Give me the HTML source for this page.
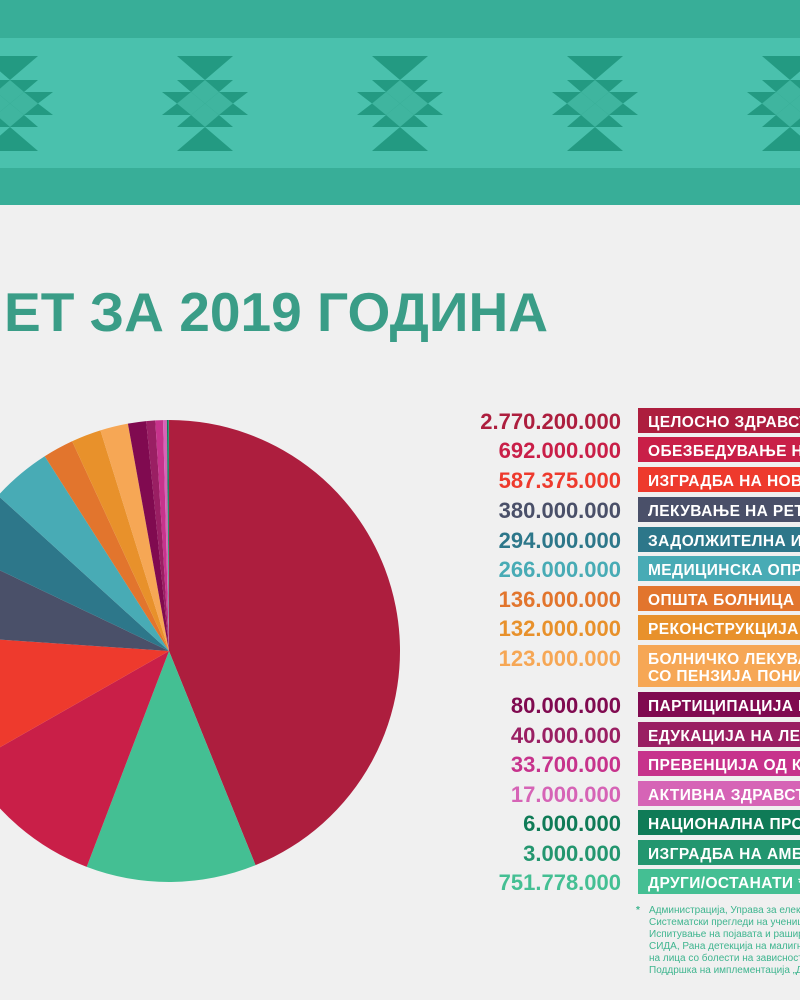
<!DOCTYPE html>
<html><head><meta charset="utf-8"><style>
html,body{margin:0;padding:0;background:#f0f0f0;}
svg{display:block;font-family:"Liberation Sans","DejaVu Sans",sans-serif;}
</style></head><body>
<svg id="s" width="800" height="1000" viewBox="0 0 800 1000" xmlns="http://www.w3.org/2000/svg">
<rect width="800" height="1000" fill="#f0f0f0"/>
<rect y="0" width="800" height="38" fill="#38ae98"/>
<rect y="38" width="800" height="130" fill="#4ac1ad"/>
<rect y="168" width="800" height="37" fill="#38ae98"/>
<defs>
<g id="m">
<polygon points="-28,56 28,56 0,80" fill="#239a82"/>
<polygon points="0,127 -28,151 28,151" fill="#239a82"/>
<polygon points="-28,80 28,80 14,92 43,92 28,103.5 43,115 14,115 28,127 -28,127 -14,115 -43,115 -28,103.5 -43,92 -14,92" fill="#239a82"/>
<polygon points="0,80 14,92 0,103.5 -14,92" fill="#3fb59f"/>
<polygon points="0,103.5 14,115 0,127 -14,115" fill="#3fb59f"/>
<polygon points="14,92 28,103.5 14,115 0,103.5" fill="#3fb59f"/>
<polygon points="-14,92 0,103.5 -14,115 -28,103.5" fill="#3fb59f"/>
</g>
</defs>
<use href="#m" x="10"/><use href="#m" x="205"/><use href="#m" x="400"/><use href="#m" x="595"/><use href="#m" x="790"/>
<text x="4" y="331" font-size="55" font-weight="bold" fill="#3a9d87" textLength="544" lengthAdjust="spacingAndGlyphs">ЕТ ЗА 2019 ГОДИНА</text>
<g id="pie"></g>
<g id="leg"></g>
<g font-size="10" fill="#3fb58f">
<text x="636" y="913" font-weight="bold">*</text>
<text x="649" y="913">Администрација, Управа за електронско здравство,</text>
<text x="649" y="925">Систематски прегледи на ученици и студенти,</text>
<text x="649" y="937">Испитување на појавата и раширеноста на</text>
<text x="649" y="949">СИДА, Рана детекција на малигни заболувања,</text>
<text x="649" y="961">на лица со болести на зависности, Заштита на</text>
<text x="649" y="973">Поддршка на имплементација „Декада на</text>
</g>
</svg>
<script>
var NS="http://www.w3.org/2000/svg";
var pie=[[2770.2,"#ad1e3e"],[751.778,"#44bf93"],[692,"#c91f48"],[587.375,"#ee3a2d"],[380,"#4a5069"],[294,"#2d778a"],[266,"#48abb5"],[136,"#e2752d"],[132,"#e8912b"],[123,"#f6a755"],[80,"#800a50"],[40,"#9a1f63"],[33.7,"#c7338c"],[17,"#d664b6"],[6,"#0f7b57"],[3,"#23966f"]];
var tot=0;pie.forEach(function(p){tot+=p[0];});
var cx=169,cy=651,r=231,a=0,g=document.getElementById("pie");
pie.forEach(function(p){
 var b=a+p[0]/tot*2*Math.PI;
 var x1=cx+r*Math.sin(a),y1=cy-r*Math.cos(a),x2=cx+r*Math.sin(b),y2=cy-r*Math.cos(b);
 var e=document.createElementNS(NS,"path");
 e.setAttribute("d","M"+cx+","+cy+"L"+x1+","+y1+"A"+r+","+r+" 0 "+((b-a)>Math.PI?1:0)+",1 "+x2+","+y2+"Z");
 e.setAttribute("fill",p[1]);g.appendChild(e);a=b;});
var L=[["2.770.200.000","ЦЕЛОСНО ЗДРАВСТВЕНО ОСИГУРУВАЊЕ","#ad1e3e",421],
["692.000.000","ОБЕЗБЕДУВАЊЕ НА ЛЕКОВИ","#c91f48",450],
["587.375.000","ИЗГРАДБА НА НОВ КЛИНИЧКИ ЦЕНТАР","#ee3a2d",480],
["380.000.000","ЛЕКУВАЊЕ НА РЕТКИ БОЛЕСТИ","#4a5069",510],
["294.000.000","ЗАДОЛЖИТЕЛНА ИМУНИЗАЦИЈА","#2d778a",540],
["266.000.000","МЕДИЦИНСКА ОПРЕМА","#48abb5",569],
["136.000.000","ОПШТА БОЛНИЦА","#e2752d",599],
["132.000.000","РЕКОНСТРУКЦИЈА НА","#e8912b",628],
["123.000.000","БОЛНИЧКО ЛЕКУВАЊЕ","#f6a755",658],
["80.000.000","ПАРТИЦИПАЦИЈА НА","#800a50",705],
["40.000.000","ЕДУКАЦИЈА НА ЛЕКАРИ","#9a1f63",735],
["33.700.000","ПРЕВЕНЦИЈА ОД КАРЦИНОМ","#c7338c",764],
["17.000.000","АКТИВНА ЗДРАВСТВЕНА","#d664b6",794],
["6.000.000","НАЦИОНАЛНА ПРОГРАМА","#0f7b57",823],
["3.000.000","ИЗГРАДБА НА АМБУЛАНТИ","#23966f",853],
["751.778.000","ДРУГИ/ОСТАНАТИ *","#44bf93",882]];
var lg=document.getElementById("leg");
function t(x,y,s,sz,fill,anchor,ls){var e=document.createElementNS(NS,"text");e.setAttribute("x",x);e.setAttribute("y",y);e.setAttribute("font-size",sz);e.setAttribute("font-weight","bold");e.setAttribute("fill",fill);if(anchor)e.setAttribute("text-anchor",anchor);if(ls)e.setAttribute("letter-spacing",ls);e.textContent=s;lg.appendChild(e);}
L.forEach(function(l){
 var y=l[3],two=l[0]=="123.000.000";
 var rc=document.createElementNS(NS,"rect");
 rc.setAttribute("x",638);rc.setAttribute("y",y-13);rc.setAttribute("width",170);rc.setAttribute("height",two?42:25);rc.setAttribute("fill",l[2]);lg.appendChild(rc);
 t(621,y+8,l[0],22,l[2],"end");
 t(648,y+6,l[1],15.5,"#fff",null,"0.4");
 if(two)t(648,y+23,"СО ПЕНЗИЈА ПОНИСКА",15.5,"#fff",null,"0.4");
});
</script>
</body></html>
